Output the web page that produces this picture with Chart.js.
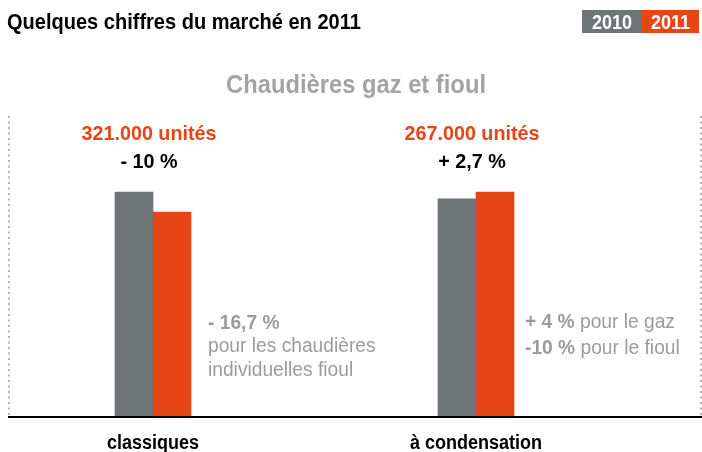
<!DOCTYPE html>
<html>
<head>
<meta charset="utf-8">
<script src="https://cdn.jsdelivr.net/npm/chart.js@4.4.0/dist/chart.umd.min.js"></script>
<style>
  html, body { margin: 0; padding: 0; background: #fff; }
  #wrap { width: 702px; height: 452px; position: relative; }
</style>
</head>
<body>
<div id="wrap"><canvas id="chart"></canvas></div>
<script>
const FONT = '"Liberation Sans", Arial, sans-serif';

const categories = ['classiques', 'à condensation'];
const years = ['2010', '2011'];
// hauteurs relatives des barres (la plus haute = 100)
const ventes2010 = [100, 97];
const ventes2011 = [91, 100];
const unites2011 = ['321.000 unités', '267.000 unités'];
const evolution = ['- 10 %', '+ 2,7 %'];
const notesClassiques = [[['- 16,7 %', true]], [['pour les chaudières', false]], [['individuelles fioul', false]]];
const notesCondensation = [[['+ 4 %', true], [' pour le gaz', false]], [['-10 %', true], [' pour le fioul', false]]];

const GRIS = '#6f7576';
const ORANGE = '#e84516';
const GRIS_TXT = '#9b9b9b';

// texte compressé horizontalement (police condensée simulée), retourne la largeur
function txt(ctx, s, x, y, size, bold, color, align, sq) {
  sq = sq || 0.9;
  ctx.save();
  ctx.font = (bold ? 'bold ' : '') + size + 'px ' + FONT;
  ctx.fillStyle = color;
  ctx.textAlign = align || 'left';
  ctx.textBaseline = 'alphabetic';
  ctx.translate(x, y);
  ctx.scale(sq, 1);
  ctx.fillText(s, 0, 0);
  const w = ctx.measureText(s).width * sq;
  ctx.restore();
  return w;
}

function runs(ctx, parts, x, y) {
  let cx = x;
  parts.forEach(([s, bold]) => { cx += txt(ctx, s, cx, y, 20, bold, GRIS_TXT, 'left', 0.96); });
}

const decor = {
  id: 'decor',
  beforeDatasetsDraw(chart) {
    const { ctx, scales: { y } } = chart;
    const base = y.getPixelForValue(0);
    ctx.save();
    // pointillés de chaque côté
    ctx.strokeStyle = '#b3b3b3';
    ctx.lineWidth = 2;
    ctx.setLineDash([2, 3.5]);
    [9, 701].forEach(px => {
      ctx.beginPath();
      ctx.moveTo(px, 116);
      ctx.lineTo(px, base);
      ctx.stroke();
    });
    ctx.restore();
  },
  afterDatasetsDraw(chart) {
    const { ctx, scales: { x, y } } = chart;
    const base = y.getPixelForValue(0);
    ctx.save();
    ctx.fillStyle = '#000';
    ctx.fillRect(8, base, 694, 2);
    ctx.restore();

    txt(ctx, 'Quelques chiffres du marché en 2011', 7, 29, 22, true, '#000', 'left', 0.91);

    // légende
    const boxes = [[582, 60], [642, 57]];
    chart.data.datasets.forEach((d, i) => {
      ctx.fillStyle = d.backgroundColor;
      ctx.fillRect(boxes[i][0], 10, boxes[i][1], 23);
      txt(ctx, d.label, boxes[i][0] + boxes[i][1] / 2, 29, 20, true, '#fff', 'center');
    });

    txt(ctx, 'Chaudières gaz et fioul', 356, 93, 25, true, '#a3a3a3', 'center', 0.95);

    // étiquettes au-dessus des barres et catégories
    categories.forEach((c, i) => {
      const cx = x.getPixelForValue(i);
      txt(ctx, unites2011[i], cx - 4, 140, 21, true, ORANGE, 'center', 0.94);
      txt(ctx, evolution[i], cx - 4, 168, 21, true, '#000', 'center', 0.94);
      txt(ctx, c, cx, 449, 20, true, '#000', 'center');
    });

    // notes
    const x0 = x.getPixelForValue(0) + 55;
    [329, 352, 376].forEach((yy, k) => runs(ctx, notesClassiques[k], x0, yy));
    const x1 = x.getPixelForValue(1) + 49;
    [328, 354].forEach((yy, k) => runs(ctx, notesCondensation[k], x1, yy));
  }
};

new Chart(document.getElementById('chart'), {
  type: 'bar',
  data: {
    labels: categories,
    datasets: [
      { label: years[0], data: ventes2010, backgroundColor: GRIS, barThickness: 38, clip: false },
      { label: years[1], data: ventes2011, backgroundColor: ORANGE, barThickness: 38, clip: false }
    ]
  },
  options: {
    responsive: true,
    maintainAspectRatio: false,
    animation: false,
    layout: { padding: { left: 153, right: 226, top: 192, bottom: 36 } },
    plugins: { legend: { display: false }, tooltip: { enabled: false }, title: { display: false } },
    scales: {
      x: { display: false, offset: false },
      y: { display: false, min: 0, max: 100 }
    }
  },
  plugins: [decor]
});
</script>
</body>
</html>
